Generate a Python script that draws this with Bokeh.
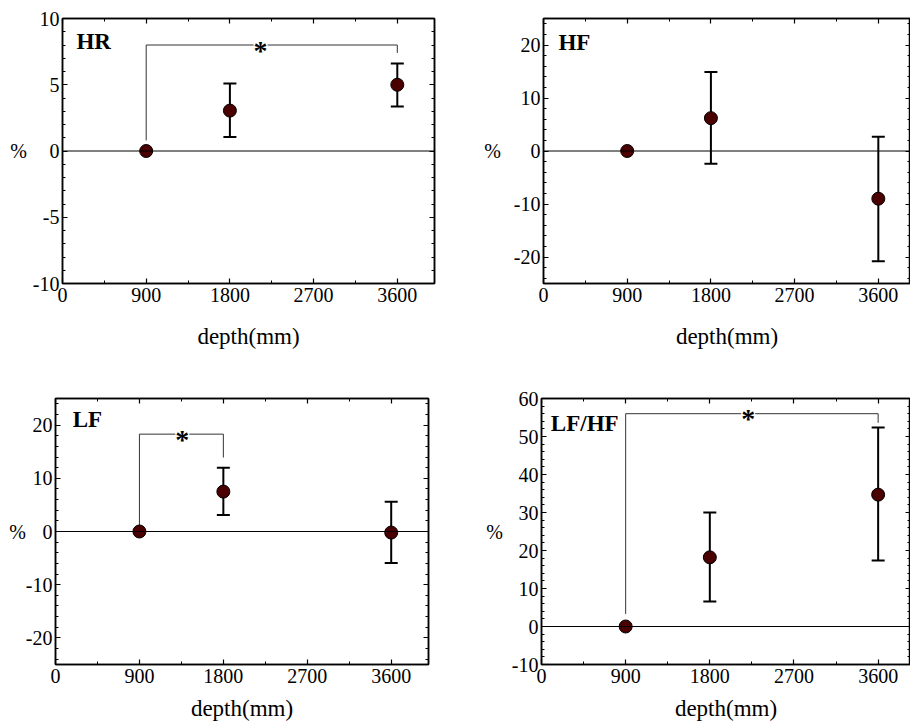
from bokeh.plotting import figure
from bokeh.models import (ColumnDataSource, Whisker, TeeHead, Span, LinearAxis,
                          FixedTicker, Range1d, Label, CustomJSTickFormatter)
from bokeh.layouts import column, row
from bokeh.embed import file_html
from bokeh.resources import INLINE

# ---------------- data ----------------
depth = [900, 1800, 3600]
x_ticks = [0, 900, 1800, 2700, 3600]
x_minor = [450, 1350, 2250, 3150, 4050]

hr_mean = [0.0, 3.05, 5.0]
hr_low = [0.0, 1.05, 3.35]
hr_high = [0.0, 5.1, 6.6]

hf_mean = [0.0, 6.2, -9.0]
hf_low = [0.0, -2.4, -20.8]
hf_high = [0.0, 14.9, 2.7]

lf_mean = [0.0, 7.5, -0.2]
lf_low = [0.0, 3.1, -5.9]
lf_high = [0.0, 12.0, 5.6]

lfhf_mean = [0.0, 18.2, 34.7]
lfhf_low = [0.0, 6.6, 17.4]
lfhf_high = [0.0, 30.0, 52.4]

# significance brackets: (x_from, x_to, y_top, y_leg_from, y_leg_to, star_x)
hr_sig = (900, 3600, 8.0, 0.8, 7.4, 2130)
lf_sig = (900, 1800, 18.3, 0.2, 13.9, 1360)
lfhf_sig = (900, 3600, 56.0, 3.3, 53.6, 2210)

FONT = "Liberation Serif"
MARK_FILL = "#4a0000"

PLAIN_NUM = "return String(tick)"


def make_panel(title, mean, low, high, yr, ymajor, yminor, width, height,
               mb_left, mb_right, mb_top, mb_bottom, xend, xlabel_standoff,
               ylabel_standoff, sig=None, title_pos=None, right_line=True):
    p = figure(width=width, height=height, output_backend="svg",
               toolbar_location=None, x_range=Range1d(0, xend),
               y_range=Range1d(*yr), min_border_left=mb_left,
               min_border_right=mb_right, min_border_top=mb_top,
               min_border_bottom=mb_bottom)
    p.grid.visible = False
    p.outline_line_color = "black"
    p.outline_line_width = 1.5
    p.background_fill_color = "white"
    p.border_fill_color = "white"

    def style(ax, labels=True):
        ax.major_tick_in = 5
        ax.major_tick_out = 0
        ax.minor_tick_in = 3
        ax.minor_tick_out = 0
        ax.axis_line_width = 1.5
        ax.major_tick_line_width = 1.2
        ax.minor_tick_line_width = 1.0
        if labels:
            ax.formatter = CustomJSTickFormatter(code=PLAIN_NUM)
            ax.major_label_text_font = FONT
            ax.major_label_text_font_size = "20px"
            ax.major_label_text_color = "black"
            ax.major_label_standoff = 4
        else:
            ax.formatter = CustomJSTickFormatter(code="return ''")
            ax.major_label_text_font_size = "1px"
            ax.major_label_standoff = 0
            ax.axis_label_standoff = 0

    xt = FixedTicker(ticks=x_ticks, minor_ticks=x_minor)
    yt = FixedTicker(ticks=ymajor, minor_ticks=yminor)

    xa = p.xaxis[0]
    xa.ticker = xt
    style(xa)
    xa.axis_label = "depth(mm)"
    xa.axis_label_text_font = FONT
    xa.axis_label_text_font_size = "23px"
    xa.axis_label_text_font_style = "normal"
    xa.axis_label_text_color = "black"
    xa.axis_label_standoff = xlabel_standoff

    ya = p.yaxis[0]
    ya.ticker = yt
    style(ya)
    ya.major_label_standoff = 3
    ya.axis_label = "%"
    ya.axis_label_orientation = "horizontal"
    ya.axis_label_text_font = FONT
    ya.axis_label_text_font_size = "20px"
    ya.axis_label_text_font_style = "normal"
    ya.axis_label_text_color = "black"
    ya.axis_label_standoff = ylabel_standoff

    top = LinearAxis(ticker=xt)
    style(top, labels=False)
    p.add_layout(top, "above")
    rgt = LinearAxis(ticker=yt)
    style(rgt, labels=False)
    if not right_line:
        rgt.axis_line_color = None
    p.add_layout(rgt, "right")

    p.add_layout(Span(location=0, dimension="width", line_color="black",
                      line_width=1))

    if sig is not None:
        x0, x1, ytop, yl0, yl1, sx = sig
        p.line([x0, x0, x1, x1], [yl0, ytop, ytop, yl1], line_color="#333333",
               line_width=1)
        p.text([sx], [ytop], text=["*"], text_font={"value": FONT},
               text_font_size="28px", text_align="center",
               text_baseline="middle", text_font_style="bold",
               background_fill_color="white", y_offset=5)

    src = ColumnDataSource(dict(x=depth, y=mean))
    err = [i for i in range(len(depth)) if high[i] != low[i]]
    esrc = ColumnDataSource(dict(x=[depth[i] for i in err],
                                 lo=[low[i] for i in err],
                                 hi=[high[i] for i in err]))
    w = Whisker(base="x", lower="lo", upper="hi", source=esrc,
                line_color="black", line_width=2,
                upper_head=TeeHead(size=13, line_width=2, line_color="black"),
                lower_head=TeeHead(size=13, line_width=2, line_color="black"))
    p.add_layout(w)
    p.scatter("x", "y", source=src, size=13, fill_color=MARK_FILL,
              line_color="black", line_width=1)

    tx, ty = title_pos
    p.add_layout(Label(x=tx, y=ty, text=title, text_font=FONT,
                       text_font_size="23px", text_font_style="bold",
                       text_color="black",
                       text_baseline="middle", text_align="left"))
    return p


p1 = make_panel("HR", hr_mean, hr_low, hr_high, (-10, 10),
                [-10, -5, 0, 5, 10], list(range(-10, 11)),
                width=455, height=368, mb_left=62, mb_right=21, mb_top=16,
                mb_bottom=85, xend=4000, xlabel_standoff=19, ylabel_standoff=3,
                sig=hr_sig, title_pos=(150, 8.3))
p2 = make_panel("HF", hf_mean, hf_low, hf_high, (-25, 25),
                [-20, -10, 0, 10, 20], list(range(-24, 25, 2)),
                width=455, height=368, mb_left=88, mb_right=0, mb_top=18,
                mb_bottom=82, xend=3946, xlabel_standoff=19, ylabel_standoff=10,
                title_pos=(160, 20.5), right_line=False)
p3 = make_panel("LF", lf_mean, lf_low, lf_high, (-25, 25),
                [-20, -10, 0, 10, 20], list(range(-24, 25, 2)),
                width=455, height=357, mb_left=55, mb_right=27, mb_top=30,
                mb_bottom=60, xend=4000, xlabel_standoff=10, ylabel_standoff=-3,
                sig=lf_sig, title_pos=(185, 21.0))
p4 = make_panel("LF/HF", lfhf_mean, lfhf_low, lfhf_high, (-10, 60),
                [-10, 0, 10, 20, 30, 40, 50, 60], list(range(-10, 61, 2)),
                width=455, height=357, mb_left=86, mb_right=0, mb_top=30,
                mb_bottom=61, xend=3946, xlabel_standoff=10, ylabel_standoff=6,
                sig=lfhf_sig, title_pos=(100, 53.5), right_line=False)

layout = column(row(p1, p2), row(p3, p4))
open("out.html", "w").write(file_html(layout, INLINE))
